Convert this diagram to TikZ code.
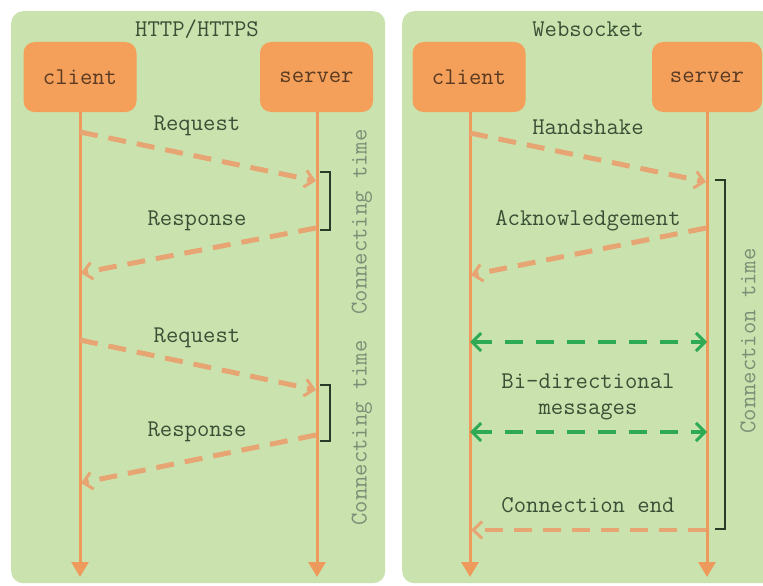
\documentclass[tikz,border=0pt]{standalone}
\usetikzlibrary{arrows.meta}
\definecolor{panelbg}{HTML}{CAE3AE}
\definecolor{boxor}{HTML}{F4A05A}
\definecolor{lifeor}{HTML}{EE9A5C}
\definecolor{msgor}{HTML}{E6A573}
\definecolor{txtgr}{HTML}{3A5036}
\definecolor{txtlt}{HTML}{7A8F76}
\definecolor{boxtxt}{HTML}{5A3A22}
\definecolor{greenar}{HTML}{2EAA55}
\definecolor{brk}{HTML}{2A3A28}
\tikzset{
  panel/.style={fill=panelbg, draw=none, rounded corners=12pt},
  actor/.style={fill=boxor, draw=none, rounded corners=11pt, minimum width=113pt, minimum height=70pt, font=\ttfamily\fontsize{24}{26}\selectfont, text=boxtxt},
  title/.style={font=\ttfamily\fontsize{24}{26}\selectfont, text=txtgr},
  lbl/.style={font=\ttfamily\fontsize{24}{26}\selectfont, text=txtgr},
  vlbl/.style={font=\ttfamily\fontsize{24}{26}\selectfont, text=txtlt, rotate=90},
  lifeline/.style={draw=lifeor, line width=3pt, -{Triangle[length=15pt,width=17pt]}},
  msg/.style={draw=msgor, line width=5pt, dash pattern=on 18pt off 11pt, -{Straight Barb[length=9pt,width=17pt,line width=3pt]}},
  bimsg/.style={draw=greenar, line width=3.5pt, dash pattern=on 18pt off 13pt, {Straight Barb[length=9pt,width=18pt,line width=3pt]}-{Straight Barb[length=9pt,width=18pt,line width=3pt]}},
  bracket/.style={draw=brk, line width=1.3pt}
}
\begin{document}
\begin{tikzpicture}[x=1pt,y=-1pt]
\useasboundingbox (0,0) rectangle (763,586);
\fill[white] (0,0) rectangle (763,586);
\begin{scope}
\clip (0,0) rectangle (763,586);
% panels
\node[panel, minimum width=374pt, minimum height=572pt, inner sep=0pt, anchor=north west] (p1) at (11,11) {};
\node[panel, minimum width=372pt, minimum height=572pt, inner sep=0pt, anchor=north west] (p2) at (402,11) {};
\end{scope}
% ---------- left panel ----------
\node[title] (t1) at (197,29) {HTTP/HTTPS};
\node[actor] (c1) at (80,77) {client};
\node[actor] (s1) at (316.5,77) {server};
\coordinate (c1end) at (80,577);
\coordinate (s1end) at (317,577);
\draw[lifeline] (c1.south) -- (c1end);
\draw[lifeline] (s1.south -| s1end) -- (s1end);
\coordinate (a1) at (80,132);  \coordinate (b1) at (316,181);
\coordinate (a2) at (316,228); \coordinate (b2) at (81,273);
\coordinate (a3) at (80,340);  \coordinate (b3) at (316,390);
\coordinate (a4) at (316,435); \coordinate (b4) at (81,483);
\draw[msg] (a1) -- (b1);
\draw[msg] (a2) -- (b2);
\draw[msg] (a3) -- (b3);
\draw[msg] (a4) -- (b4);
\node[lbl] (l1) at (197,126) {Request};
\node[lbl] (l2) at (197,221) {Response};
\node[lbl] (l3) at (197,338) {Request};
\node[lbl] (l4) at (197,432) {Response};
\coordinate (k1a) at (320,172); \coordinate (k1b) at (320,230);
\draw[bracket] (k1a) -- ++(10,0) |- (k1b);
\coordinate (k2a) at (320,385); \coordinate (k2b) at (320,441);
\draw[bracket] (k2a) -- ++(10,0) |- (k2b);
\node[vlbl] (v1) at (362,222) {Connecting time};
\node[vlbl] (v2) at (362,433) {Connecting time};
% ---------- right panel ----------
\node[title] (t2) at (588,29) {Websocket};
\node[actor] (c2) at (469,77) {client};
\node[actor, minimum width=110pt] (s2) at (707,77) {server};
\coordinate (c2end) at (470,577);
\coordinate (s2end) at (707,577);
\draw[lifeline] (c2.south -| c2end) -- (c2end);
\draw[lifeline] (s2.south) -- (s2end);
\coordinate (h1) at (470,133);  \coordinate (h2) at (706,182);
\coordinate (k1) at (706,228);  \coordinate (k2) at (471,275);
\coordinate (g1) at (470,342);  \coordinate (g2) at (707,342);
\coordinate (g3) at (470,432);  \coordinate (g4) at (707,432);
\coordinate (e1) at (706,530);  \coordinate (e2) at (471,530);
\draw[msg] (h1) -- (h2);
\draw[msg] (k1) -- (k2);
\draw[bimsg] (g1) -- (g2);
\draw[bimsg] (g3) -- (g4);
\draw[msg, line width=3.5pt] (e1) -- (e2);
\node[lbl] (m1) at (588,127) {Handshake};
\node[lbl] (m2) at (588,221) {Acknowledgement};
\node[lbl] (m3) at (588,381) {Bi-directional};
\node[lbl] (m4) at (588,412) {messages};
\node[lbl] (m5) at (588,505) {Connection end};
\coordinate (q1) at (715,180); \coordinate (q2) at (715,529);
\draw[bracket] (q1) -- ++(10,0) |- (q2);
\node[vlbl] (v3) at (748,341) {Connection time};
\end{tikzpicture}
\end{document}
